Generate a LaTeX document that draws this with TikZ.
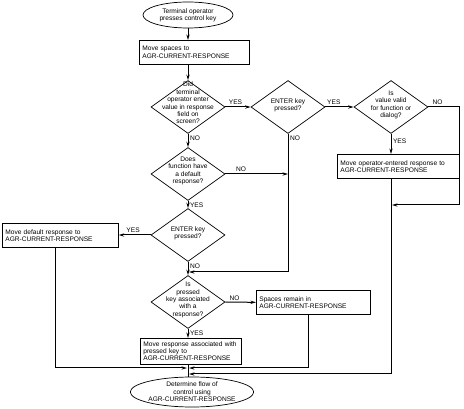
\documentclass[tikz,border=0pt]{standalone}
\usepackage{fontspec}
\setmainfont{Liberation Sans}
\usetikzlibrary{shapes.geometric, arrows.meta, shadows}

\begin{document}
\begin{tikzpicture}[
  x=1pt, y=-1pt,
  every node/.style={font=\fontsize{6.6}{7.4}\selectfont},
  term/.style={ellipse, draw=black, line width=0.7pt, fill=white, minimum width=90pt, minimum height=26pt, inner sep=0pt, align=center},
  proc/.style={rectangle, draw=black, line width=0.7pt, fill=white, anchor=north west, align=left, inner sep=3pt, minimum height=24pt,
    drop shadow={shadow xshift=0.9pt, shadow yshift=-0.9pt, fill=black!45, opacity=1}},
  dec/.style={diamond, draw=black, line width=0.7pt, minimum width=74pt, minimum height=53pt, inner sep=0pt},
  dtxt/.style={align=center, inner sep=0pt},
  lbl/.style={inner sep=1.5pt},
  flow/.style={line width=1pt, -{Stealth[length=5.5pt, width=3.2pt]}},
  link/.style={line width=1pt}
]
  \useasboundingbox (0,0) rectangle (464,409);

  %% ── Main column: entry and first test ──────────────────────────────────────
  \node[term] (start) at (188,15) {Terminal operator\\presses control key};
  \node[proc, text width=104pt] (mvsp) at (139,40) {Move spaces to\\AGR-CURRENT-RESPONSE};
  \node[dec] (entry) at (188,107) {};
  \node[dtxt] (entryt) at (188,103) {Did\\terminal\\operator enter\\value in response\\field on\\screen?};

  %% ── Top row: ENTER test and validity test ─────────────────────────────────
  \node[dec] (enter1) at (288,107) {};
  \node[dtxt] (enter1t) at (288,105) {ENTER key\\pressed?};
  \node[dec] (valid) at (391,107) {};
  \node[dtxt] (validt) at (391,105) {Is\\value valid\\for function or\\dialog?};
  \node[proc, text width=116pt] (mvop) at (337,154) {Move operator-entered response to\\AGR-CURRENT-RESPONSE};

  %% ── Main column: default response and second ENTER test ───────────────────
  \node[dec] (dflt) at (188,174) {};
  \node[dtxt] (dfltt) at (188,171) {Does\\function have\\a default\\response?};
  \node[dec] (enter2) at (188,235) {};
  \node[dtxt] (enter2t) at (188,233) {ENTER key\\pressed?};
  \node[proc, text width=110pt] (mvdf) at (2,223) {Move default response to\\AGR-CURRENT-RESPONSE};

  %% ── Main column: key association ──────────────────────────────────────────
  \node[dec] (assoc) at (188,302) {};
  \node[dtxt] (assoct) at (188,300) {Is\\pressed\\key associated\\with a\\response?};
  \node[proc, text width=108pt] (spaces) at (256,290) {Spaces remain in\\AGR-CURRENT-RESPONSE};
  \node[proc, text width=95pt] (mvky) at (140,338) {Move response associated with\\pressed key to\\AGR-CURRENT-RESPONSE};
  \node[term, minimum width=92pt, minimum height=30pt] (done) at (192,392) {Determine flow of\\control using\\AGR-CURRENT-RESPONSE};

  %% ── Junction points ───────────────────────────────────────────────────────
  \coordinate (jv) at (392,205);
  \coordinate (jn) at (189,272);
  \coordinate (jl) at (187,368);
  \coordinate (jr1) at (189,368);
  \coordinate (jr2) at (189,374);

  %% ── Flow lines ────────────────────────────────────────────────────────────
  \draw[flow] (start.south) -- (start.south |- mvsp.north);
  \draw[flow] (start.south |- mvsp.south) -- (entry.north);
  % entered a value?
  \draw[flow] (entry.east) --
    node[lbl, above, pos=0.4] (y1) {YES} (enter1.west);
  \draw[flow] (entry.south) --
    node[lbl, pos=0, anchor=north west] (n1) {NO} (dflt.north);
  % ENTER key (top)
  \draw[flow] (enter1.east) --
    node[lbl, above, pos=0.3] (y2) {YES} (valid.west);
  \draw[flow] (enter1.south) --
    node[lbl, pos=0, anchor=north west] (n2) {NO} (enter1.south |- jn) -- (jn);
  % value valid?
  \draw[flow] (valid.south) --
    node[lbl, pos=0.35, right] (y3) {YES} (valid.south |- mvop.north);
  \draw[flow] (valid.east) --
    node[lbl, above, pos=0.3] (n3) {NO} ++(31,0) |- (jv);
  \draw[flow] (valid.south |- mvop.south) |- (jr2);
  % default response?
  \draw[flow] (dflt.east) --
    node[lbl, above, pos=0.25] (n4) {NO} (dflt.east -| enter1.south);
  \draw[flow] (dflt.south) --
    node[lbl, pos=0, anchor=north west] (y4) {YES} (enter2.north);
  % ENTER key (middle)
  \draw[flow] (enter2.west) --
    node[lbl, above, pos=0.55] (y5) {YES} (enter2.west -| mvdf.east);
  \draw[flow] (enter2.south) --
    node[lbl, pos=0, anchor=north west] (n5) {NO} (assoc.north);
  \draw[flow] ([xshift=-5pt]mvdf.south) |- (jl);
  % key associated?
  \draw[flow] (assoc.east) --
    node[lbl, above, pos=0.3] (n6) {NO} (spaces.west);
  \draw[flow] (assoc.south) --
    node[lbl, pos=0, anchor=north west] (y6) {YES} (assoc.south |- mvky.north);
  \draw[flow] ([xshift=-5pt]spaces.south) |- (jr1);
  \draw[link] (assoc.south |- mvky.south) -- (assoc.south |- done.north);
\end{tikzpicture}
\end{document}
